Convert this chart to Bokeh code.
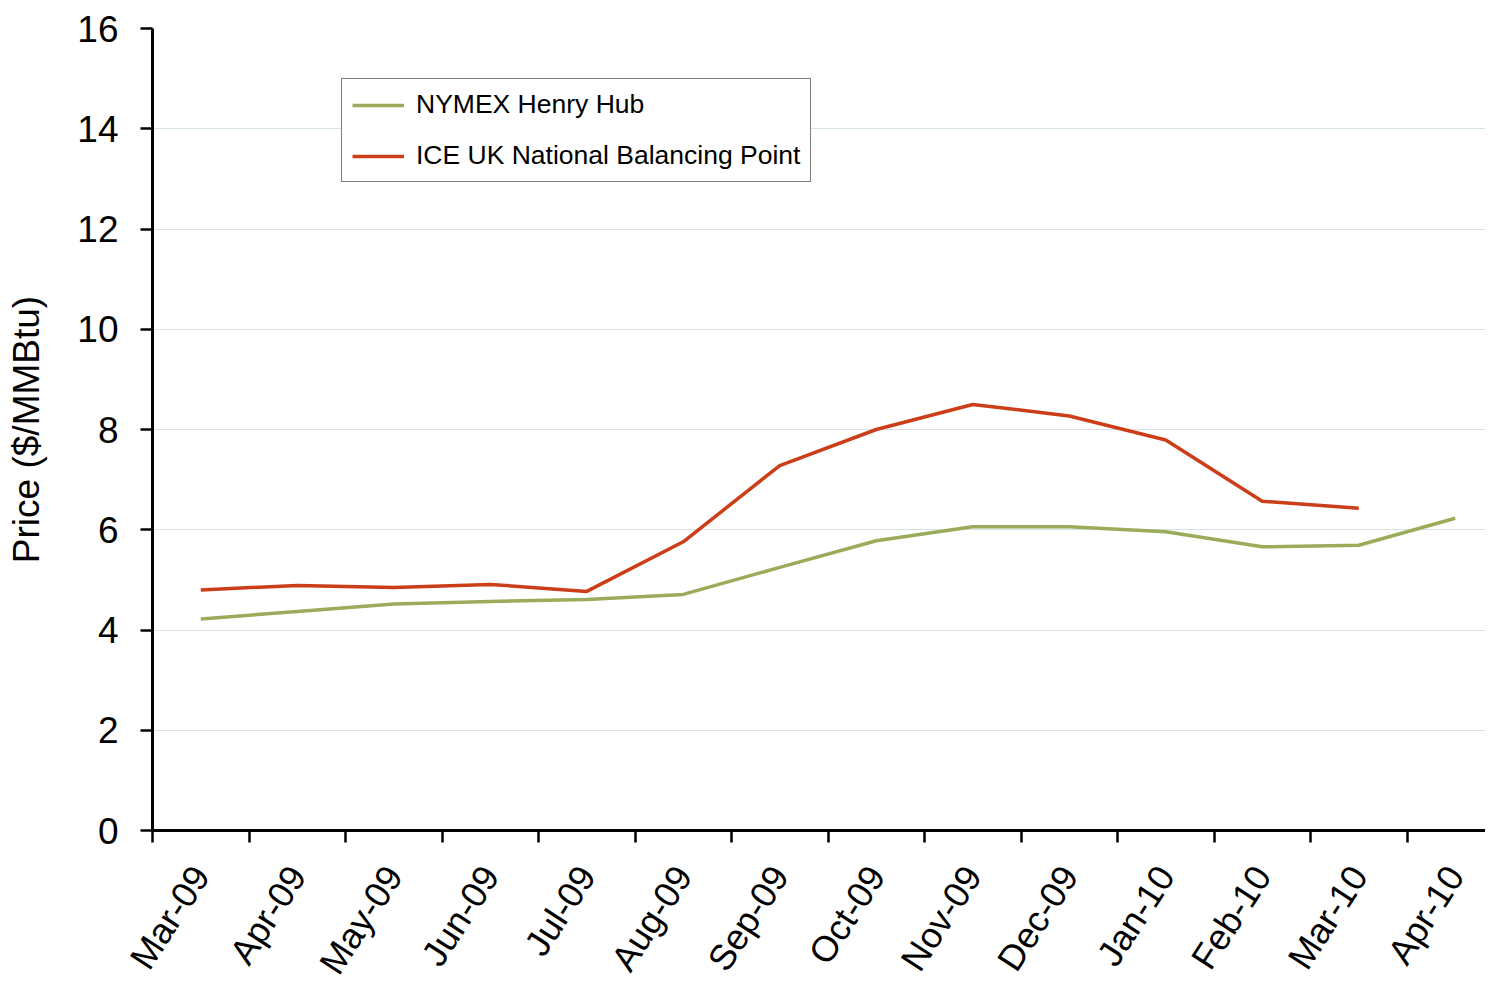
import math
from bokeh.plotting import figure
from bokeh.models import Range1d, FixedTicker, Legend, LegendItem, CustomJSTickFormatter
from bokeh.embed import file_html
from bokeh.resources import INLINE

months = ["Mar-09", "Apr-09", "May-09", "Jun-09", "Jul-09", "Aug-09", "Sep-09",
          "Oct-09", "Nov-09", "Dec-09", "Jan-10", "Feb-10", "Mar-10", "Apr-10"]
henry_hub = [4.22, 4.37, 4.52, 4.57, 4.61, 4.71, 5.25, 5.78, 6.06, 6.06, 5.96, 5.66, 5.69, 6.23]
nbp = [4.80, 4.89, 4.85, 4.91, 4.77, 5.76, 7.28, 8.00, 8.50, 8.27, 7.79, 6.57, 6.43, float("nan")]
y_ticks = [0, 2, 4, 6, 8, 10, 12, 14, 16]

FONT = "Liberation Sans"
GREEN = "#9AAB59"
RED = "#CB3E17"

xc = [i + 0.5 for i in range(len(months))]
bounds = list(range(len(months)))

W, H = 1485, 995
p = figure(width=W, height=H, output_backend="svg", toolbar_location=None,
           x_range=Range1d(0, (W - 152) / 96.5), y_range=Range1d(0, 16),
           min_border_left=152, min_border_right=0, min_border_top=28, min_border_bottom=H - 831)
p.outline_line_color = None
p.background_fill_color = "white"
p.border_fill_color = "white"

r1 = p.line(xc, henry_hub, line_color=GREEN, line_width=3.5)
r2 = p.line(xc, nbp, line_color=RED, line_width=3.5)

# x axis
xa = p.xaxis[0]
xa.ticker = FixedTicker(ticks=xc, minor_ticks=bounds)
xa.formatter = CustomJSTickFormatter(args=dict(labels=months),
                                     code="return labels[Math.floor(tick)];")
xa.major_tick_out = 0
xa.major_tick_in = 0
xa.minor_tick_out = 12
xa.minor_tick_in = 0
xa.minor_tick_line_color = "black"
xa.minor_tick_line_width = 2.5
xa.axis_line_color = "black"
xa.axis_line_width = 3
xa.major_label_orientation = math.radians(57)
xa.major_label_text_font = FONT
xa.major_label_text_font_size = "36px"
xa.major_label_text_color = "black"
xa.major_label_standoff = 27

# y axis
ya = p.yaxis[0]
ya.ticker = FixedTicker(ticks=y_ticks)
ya.major_tick_out = 12
ya.major_tick_in = 0
ya.major_tick_line_color = "black"
ya.major_tick_line_width = 2.5
ya.minor_tick_line_color = None
ya.axis_line_color = "black"
ya.axis_line_width = 3
ya.major_label_text_font = FONT
ya.major_label_text_font_size = "37px"
ya.major_label_text_color = "black"
ya.major_label_standoff = 22
ya.axis_label = "Price ($/MMBtu)"
ya.axis_label_text_font = FONT
ya.axis_label_text_font_size = "37px"
ya.axis_label_text_font_style = "normal"
ya.axis_label_text_color = "black"
ya.axis_label_standoff = 27

p.xgrid.visible = False
p.ygrid.grid_line_color = "#D5E3E6"
p.ygrid.grid_line_width = 1

legend = Legend(items=[LegendItem(label="NYMEX Henry Hub", renderers=[r1]),
                       LegendItem(label="ICE UK National Balancing Point", renderers=[r2])],
                location=(189, 648))
legend.border_line_color = "black"
legend.border_line_width = 1
legend.background_fill_color = "white"
legend.background_fill_alpha = 1
legend.label_text_font = FONT
legend.label_text_font_size = "26.5px"
legend.label_text_color = "black"
legend.glyph_width = 52
legend.glyph_height = 28
legend.label_height = 28
legend.label_standoff = 12
legend.spacing = 20
legend.padding = 10
legend.margin = 0
p.add_layout(legend)

open("out.html", "w").write(file_html(p, INLINE))
